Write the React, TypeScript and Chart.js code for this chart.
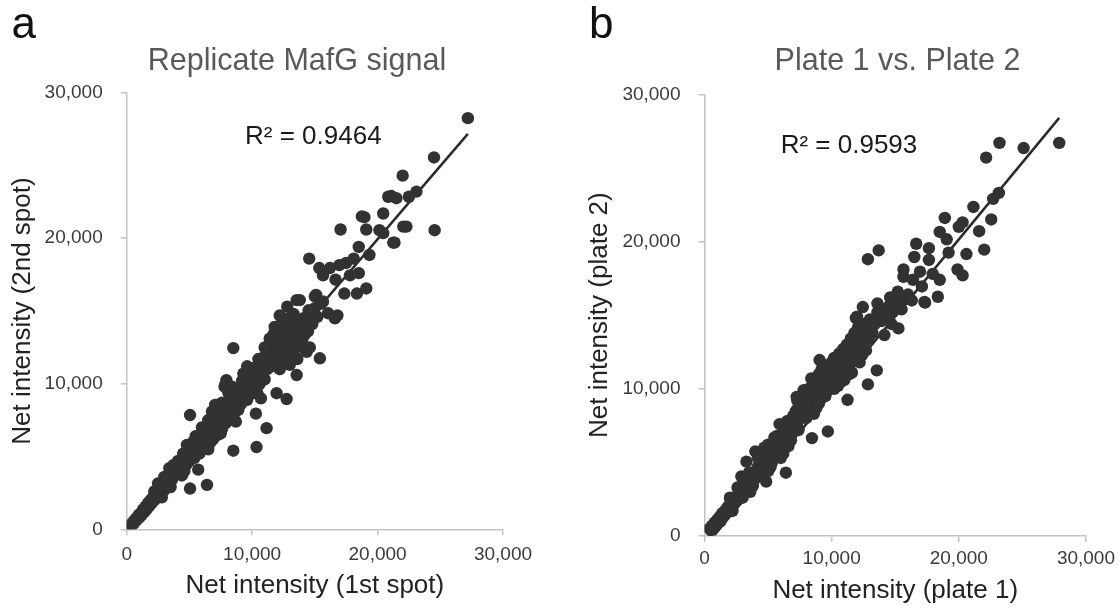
import React, { useEffect, useRef } from "react";
import { Chart, registerables } from "chart.js";

Chart.register(...registerables);

const FONT = '"Liberation Sans", Arial, Helvetica, sans-serif';

// ---------- data ----------
const axisTicks = [0, 10000, 20000, 30000];

const titleA = "Replicate MafG signal";
const titleB = "Plate 1 vs. Plate 2";
const xLabelA = "Net intensity (1st spot)";
const yLabelA = "Net intensity (2nd spot)";
const xLabelB = "Net intensity (plate 1)";
const yLabelB = "Net intensity (plate 2)";
const r2A = "R² = 0.9464";
const r2B = "R² = 0.9593";

// Panel a: 1st spot (x) vs 2nd spot (y)
const spotPairs: [number, number][] = [
  [27200, 28250], [24500, 25550], [22000, 24300], [23100, 23200], [21100, 22900], [21500, 22750],
  [22500, 22850], [20450, 21700], [18950, 21450], [19100, 20600], [17050, 20600], [20450, 20350],
  [22300, 20800], [24550, 20550], [21350, 19700], [18500, 19400], [19350, 18850], [14550, 18600],
  [18100, 18600], [17500, 18300], [16950, 18150], [15350, 17950], [16200, 17950], [15650, 17450],
  [17800, 17450], [16650, 17150], [18500, 17600], [17350, 16200], [18350, 16200], [19100, 16550],
  [15100, 16100], [13800, 15750], [12800, 15300], [15650, 15650], [14500, 15050], [12200, 14700],
  [16800, 14700], [20850, 22850], [18750, 21500], [20150, 20550], [22050, 20800], [21250, 19700],
  [16600, 14500], [16050, 14850], [13550, 15750], [15000, 16000], [14450, 13600], [14350, 12200],
  [8500, 12450], [15400, 11750], [13550, 10600], [12750, 8950], [11950, 9350], [5050, 7850],
  [11150, 6950], [10350, 5650], [8500, 5400], [5050, 2800], [6400, 3050], [10300, 7950],
  [7950, 10250], [7050, 8550], [5600, 6250], [4800, 5800], [5700, 4100], [2500, 3150],
  [10600, 11300], [10800, 10500], [11000, 11900], [11200, 11000], [11300, 12500], [11400, 13100],
  [11500, 11600], [11600, 12300], [11700, 13400], [11800, 12000], [11900, 12800], [12000, 13600],
  [12100, 11500], [12200, 12600], [12300, 13200], [12400, 12100], [12500, 13800], [12600, 12900],
  [12700, 11800], [12800, 13300], [12900, 12500], [13000, 14000], [13100, 13000], [13200, 12300],
  [13300, 13600], [13400, 11900], [13500, 12800], [13600, 13300], [13700, 14300], [13800, 12600],
  [13900, 13800], [14000, 13000], [14100, 14500], [14200, 13400], [14400, 14000], [14600, 14800],
  [14800, 14100], [15000, 15200], [15200, 14600], [15500, 15500], [11000, 12500], [11800, 13900],
  [12400, 14300], [12900, 14500], [13300, 14800], [10900, 11600], [12000, 12200], [12600, 13500],
  [13200, 13900], [13800, 13200], [11500, 11200], [12200, 11000], [13000, 11300], [13600, 11700],
  [14200, 12400], [14600, 12500],
  [9000, 9600], [9200, 10200], [9400, 9200], [9500, 10600], [9700, 9900], [9800, 10900],
  [10000, 10300], [10100, 9700], [10200, 11100], [10300, 10500], [10400, 9400], [10500, 11700],
  [9600, 8900], [9900, 9300], [10600, 10000], [10700, 9000], [8900, 9000], [9100, 8600],
  [7000, 7300], [7100, 6800], [7200, 7900], [7300, 7100], [7400, 8100], [7500, 7500],
  [7600, 6900], [7700, 7800], [7800, 8400], [7900, 7300], [8000, 8200], [8100, 8800],
  [8200, 7800], [8300, 9100], [8400, 8500], [8500, 9300], [8600, 8000], [8700, 8900],
  [8800, 9500], [7800, 9800], [7900, 10000], [8100, 9400], [8300, 7600], [8700, 7400],
  [6900, 6200], [7300, 6500], [6700, 6000],
  [4000, 4200], [4100, 3800], [4200, 4600], [4300, 4100], [4400, 4800], [4500, 4400],
  [4600, 4000], [4700, 4900], [4800, 4500], [4900, 5200], [5000, 4700], [5100, 5600],
  [5200, 5000], [5300, 5300], [5400, 4900], [5500, 5800], [5600, 5400], [5700, 6100],
  [5800, 5600], [5900, 6300], [6000, 5900], [6100, 6600], [6200, 6200], [6300, 7000],
  [6400, 6500], [6500, 7500], [6600, 6800], [6700, 7200], [6800, 7700], [6900, 6600],
  [6200, 5700], [6500, 5500], [5300, 6000],
  [300, 300], [400, 250], [500, 500], [600, 450], [700, 700], [800, 650], [900, 900],
  [1000, 800], [1100, 1100], [1200, 1000], [1300, 1350], [1400, 1200], [1500, 1550],
  [1600, 1400], [1700, 1800], [1800, 1600], [1900, 2000], [2000, 1800], [2100, 2200],
  [2200, 2000], [2300, 2400], [2400, 2200], [2600, 2600], [2700, 3100], [2800, 2500],
  [2900, 2900], [3000, 2700], [3100, 3200], [3200, 3500], [3300, 3000], [3400, 3300],
  [3500, 3800], [3600, 3400], [3700, 4100], [3800, 3700], [3900, 4400], [3400, 4200],
  [3700, 4400], [4100, 4700], [3500, 2900], [2500, 2300], [1500, 1300], [1000, 1000],
  [650, 600], [1250, 1150], [1750, 1700], [2250, 2150],
  [3000, 3600], [4500, 5200], [5500, 6400], [6000, 7000], [6800, 8100], [7600, 8700],
  [8400, 9800], [9300, 10700], [9600, 11200], [4400, 3700], [5800, 5200], [6700, 6400],
  [7500, 6600], [8900, 8200], [10000, 9600], [11000, 10300], [2800, 2200], [2200, 2600],
];
const spotTrend: [number, number][] = [[400, 230], [27200, 27170]];

// Panel b: plate 1 (x) vs plate 2 (y)
const platePairs: [number, number][] = [
  [27900, 26700], [25100, 26350], [23200, 26700], [22150, 25700], [23150, 23300], [22700, 22900],
  [21150, 22350], [22550, 21500], [21600, 20700], [18900, 21600], [20300, 21300], [20000, 21000],
  [18500, 20650], [19050, 20150], [22000, 19450], [20600, 19150], [19200, 19250], [12850, 18800],
  [13700, 19400], [16650, 19850], [17650, 19550], [16500, 18950], [17650, 18750], [15650, 18100],
  [15650, 17600], [16950, 17950], [17950, 17800], [18500, 17400], [19900, 18100], [20300, 17700],
  [17100, 16950], [16400, 17400], [18350, 16250], [17350, 15850], [15700, 16050], [13600, 15800],
  [12450, 15550], [15100, 15800], [12000, 14900], [17300, 15900], [15250, 14100], [14150, 13650],
  [11900, 14800], [13550, 11250], [12850, 10300], [11250, 9250], [9700, 7100], [8450, 6650],
  [6400, 4300], [5900, 7600], [10500, 12200], [9050, 11950], [7250, 9450], [3300, 5050],
  [2900, 4050], [4000, 5750], [4850, 3700],
  [14500, 15600], [15200, 16600], [16000, 16400], [14800, 15200], [16300, 16000], [13900, 14600],
  [14700, 14400],
  [400, 500], [500, 400], [600, 700], [700, 550], [800, 900], [900, 800], [1000, 1100],
  [1100, 950], [1200, 1300], [1300, 1150], [1400, 1550], [1500, 1350], [1600, 1700],
  [1700, 1600], [1800, 1950], [1900, 1750], [2000, 2200], [2100, 2000], [2200, 2400],
  [2300, 2150], [2400, 2600], [2500, 2350], [2600, 2800], [2700, 2550], [2800, 3000],
  [2900, 2750], [3000, 3300], [3100, 3000], [3200, 3500], [3300, 3200], [3400, 3700],
  [3500, 3400], [3600, 3900], [3700, 3600], [3800, 4200], [3900, 3800], [3100, 3500],
  [3300, 3900], [3500, 4300], [700, 700], [1250, 1000],
  [4000, 4400], [4100, 4000], [4200, 4700], [4300, 4200], [4400, 5000], [4500, 4500],
  [4600, 5200], [4700, 4700], [4800, 5400], [4900, 4900], [5000, 5600], [5100, 5100],
  [5200, 5800], [5300, 5300], [5400, 6000], [5500, 5500], [5600, 6300], [5700, 5700],
  [5800, 6500], [5900, 6000], [6000, 6800], [6100, 6200], [6200, 7000], [6300, 6500],
  [6400, 7300], [6500, 6700], [6600, 7600], [6700, 6900], [6800, 7900], [6900, 7200],
  [4200, 5300], [4500, 5600], [5000, 6200], [5300, 5000], [5800, 5600], [6300, 6000],
  [6800, 6500],
  [7000, 8200], [7100, 7400], [7200, 8500], [7300, 7700], [7400, 8800], [7500, 8000],
  [7600, 9100], [7700, 8300], [7800, 9400], [7900, 8600], [8000, 9700], [8100, 8900],
  [8200, 10000], [8300, 9200], [8400, 9000], [8500, 9500], [8600, 10300], [8700, 9800],
  [8800, 10600], [8900, 9400], [9000, 11000], [9100, 10100], [9200, 11300], [9300, 10400],
  [9400, 11600], [9500, 10700], [9600, 10000], [9700, 11000], [9800, 11400], [9900, 10600],
  [10000, 11800], [7600, 8600], [8200, 8600], [8800, 8700], [9300, 9600], [7300, 9200],
  [7800, 9900], [8400, 10700], [9000, 9000],
  [10100, 11000], [10200, 12100], [10300, 11300], [10400, 10600], [10500, 11700], [10600, 12400],
  [10700, 11000], [10800, 11900], [10900, 12700], [11000, 11300], [11100, 12200], [11200, 13000],
  [11300, 11600], [11400, 12600], [11500, 13400], [11600, 12000], [11700, 13100], [11800, 13800],
  [11900, 12400], [12000, 13500], [12100, 14200], [12200, 12800], [12300, 13900], [12400, 12300],
  [12500, 14400], [12600, 13200], [12700, 12600], [12800, 14000], [12900, 13400], [13000, 14700],
  [10500, 10200], [11000, 10600], [11600, 11100], [12200, 11800], [13200, 13800], [13400, 14400],
  [13600, 15200], [13800, 14900], [14000, 15400], [14200, 14800], [14400, 15300], [14600, 16200],
  [14900, 15500], [15300, 16300], [15500, 15400],
  [2000, 2600], [2600, 3300], [3000, 2600], [3800, 3400], [4400, 4100], [5200, 4700],
  [5700, 6800], [6200, 5600], [6600, 6100], [7400, 7200], [8000, 8000], [8600, 8300],
  [9500, 9500], [10200, 10000], [10800, 10500], [11400, 11000], [7000, 7800], [8000, 9200],
  [2200, 1700], [3000, 3900], [3600, 3000], [4600, 4300], [5000, 4400], [5500, 6700],
  [6000, 5300], [6500, 7800], [4700, 6000],
];
const plateTrend: [number, number][] = [[800, 76], [27900, 28400]];

// ---------- helpers ----------
type TextItem = { text: string; x: number; y: number; size: number; color: string; align: CanvasTextAlign };

function textPlugin(items: TextItem[]) {
  return {
    id: "panelText",
    afterDraw(chart: any) {
      const ctx = chart.ctx as CanvasRenderingContext2D;
      ctx.save();
      for (const it of items) {
        ctx.font = `${it.size}px ${FONT}`;
        ctx.fillStyle = it.color;
        ctx.textAlign = it.align;
        ctx.textBaseline = "alphabetic";
        ctx.fillText(it.text, it.x, it.y);
      }
      ctx.restore();
    },
  };
}

type PanelOpts = {
  pairs: [number, number][];
  trend: [number, number][];
  xLabel: string;
  yLabel: string;
  padTop: number;
  padRight: number;
  yAxisWidth: number;
  xAxisHeight: number;
  xTickPad: number;
  xTitlePad: number;
  yTitlePad: number;
  texts: TextItem[];
};

const AXIS_COLOR = "#c3c3c3";
const TICK_COLOR = "#3a3a3a";
const DOT_COLOR = "#323232";

function makeConfig(o: PanelOpts): any {
  const fmt = (v: any) => Number(v).toLocaleString("en-US");
  return {
    type: "scatter",
    data: {
      datasets: [
        {
          type: "line",
          data: o.trend.map(([x, y]) => ({ x, y })),
          borderColor: "#2a2a2a",
          borderWidth: 2.5,
          pointRadius: 0,
          fill: false,
          order: 1,
        },
        {
          type: "scatter",
          data: o.pairs.map(([x, y]) => ({ x, y })),
          backgroundColor: DOT_COLOR,
          borderColor: DOT_COLOR,
          borderWidth: 0,
          pointRadius: 6.2,
          order: 0,
        },
      ],
    },
    options: {
      animation: false,
      responsive: false,
      devicePixelRatio: 1,
      layout: { autoPadding: false, padding: { top: o.padTop, right: o.padRight, left: 0, bottom: 0 } },
      plugins: { legend: { display: false }, tooltip: { enabled: false }, title: { display: false } },
      scales: {
        x: {
          type: "linear",
          min: 0,
          max: 30000,
          afterBuildTicks: (s: any) => {
            s.ticks = axisTicks.map((v) => ({ value: v }));
          },
          afterFit: (s: any) => {
            s.height = o.xAxisHeight;
          },
          ticks: { color: TICK_COLOR, font: { size: 19, family: FONT }, padding: o.xTickPad, maxRotation: 0, callback: fmt },
          grid: { display: true, drawOnChartArea: false, drawTicks: true, tickLength: 6, color: AXIS_COLOR, lineWidth: 1.5 },
          border: { display: true, color: AXIS_COLOR, width: 1.5 },
          title: { display: true, text: o.xLabel, color: "#222222", font: { size: 26, family: FONT }, padding: { top: 0, bottom: o.xTitlePad } },
        },
        y: {
          type: "linear",
          min: 0,
          max: 30000,
          afterBuildTicks: (s: any) => {
            s.ticks = axisTicks.map((v) => ({ value: v }));
          },
          afterFit: (s: any) => {
            s.width = o.yAxisWidth;
          },
          ticks: { color: TICK_COLOR, font: { size: 19, family: FONT }, padding: 18, callback: fmt },
          grid: { display: true, drawOnChartArea: false, drawTicks: true, tickLength: 6, color: AXIS_COLOR, lineWidth: 1.5 },
          border: { display: true, color: AXIS_COLOR, width: 1.5 },
          title: { display: true, text: o.yLabel, color: "#222222", font: { size: 26, family: FONT }, padding: { top: o.yTitlePad, bottom: 0 } },
        },
      },
    },
    plugins: [textPlugin(o.texts)],
  };
}

export default function App() {
  const refA = useRef<HTMLCanvasElement | null>(null);
  const refB = useRef<HTMLCanvasElement | null>(null);

  useEffect(() => {
    Chart.defaults.font.family = FONT;
    const a = new Chart(
      refA.current as HTMLCanvasElement,
      makeConfig({
        pairs: spotPairs,
        trend: spotTrend,
        xLabel: xLabelA,
        yLabel: yLabelA,
        padTop: 92.7,
        padRight: 57,
        yAxisWidth: 126.7,
        xAxisHeight: 80.7,
        xTickPad: 8,
        xTitlePad: 8.4,
        yTitlePad: 7.4,
        texts: [
          { text: "a", x: 11.5, y: 38, size: 44, color: "#111111", align: "left" },
          { text: titleA, x: 297, y: 70, size: 30.5, color: "#595959", align: "center" },
          { text: r2A, x: 245, y: 144, size: 26, color: "#1a1a1a", align: "left" },
        ],
      })
    );
    const b = new Chart(
      refB.current as HTMLCanvasElement,
      makeConfig({
        pairs: platePairs,
        trend: plateTrend,
        xLabel: xLabelB,
        yLabel: yLabelB,
        padTop: 94.3,
        padRight: 32.7,
        yAxisWidth: 144.5,
        xAxisHeight: 74,
        xTickPad: 5,
        xTitlePad: 3.4,
        yTitlePad: 23.9,
        texts: [
          { text: "b", x: 29, y: 38.3, size: 44, color: "#111111", align: "left" },
          { text: titleB, x: 337.5, y: 70, size: 30.5, color: "#595959", align: "center" },
          { text: r2B, x: 220.7, y: 153.3, size: 26, color: "#1a1a1a", align: "left" },
        ],
      })
    );
    return () => {
      a.destroy();
      b.destroy();
    };
  }, []);

  return (
    <div style={{ position: "absolute", left: 0, top: 0, width: 1120, height: 610, background: "#ffffff", overflow: "hidden" }}>
      <canvas ref={refA} width={560} height={610} style={{ position: "absolute", left: 0, top: 0, width: 560, height: 610 }} />
      <canvas ref={refB} width={560} height={610} style={{ position: "absolute", left: 560, top: 0, width: 560, height: 610 }} />
    </div>
  );
}
